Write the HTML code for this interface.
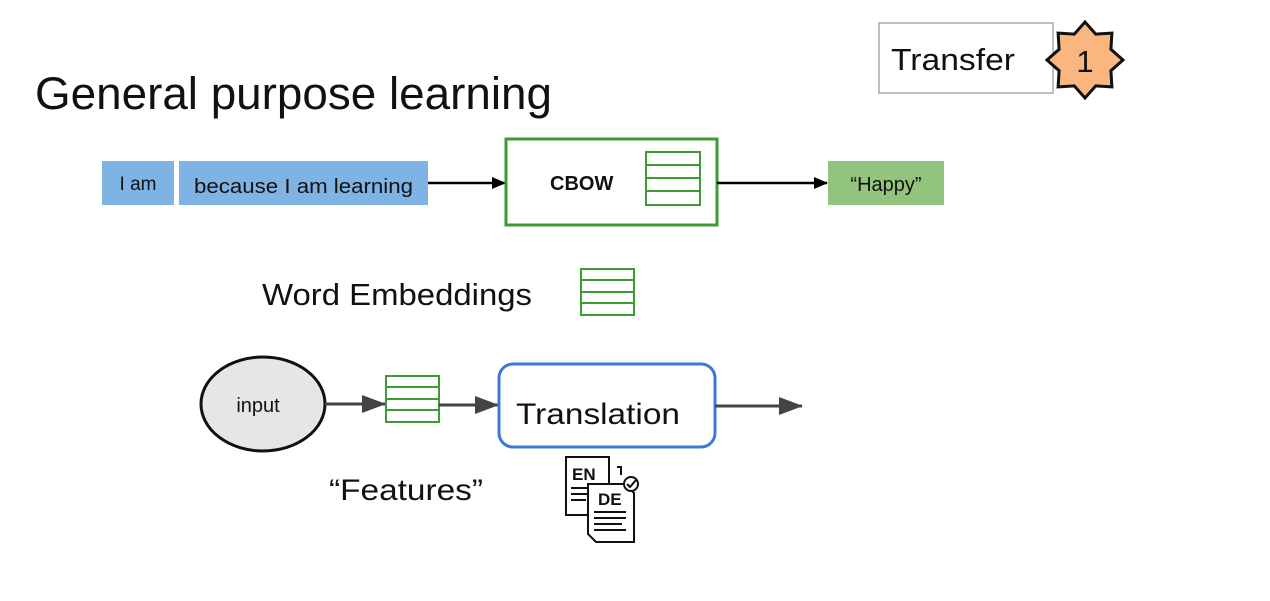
<!DOCTYPE html>
<html><head><style>
html,body{margin:0;padding:0;background:#fff;width:1270px;height:601px;overflow:hidden}
svg{display:block}
text{font-family:"Liberation Sans",sans-serif}
</style></head><body>
<svg width="1270" height="601" viewBox="0 0 1270 601" xmlns="http://www.w3.org/2000/svg">
<defs>
<marker id="a" markerWidth="14" markerHeight="12" refX="13" refY="6" orient="auto" markerUnits="userSpaceOnUse"><path d="M0,0 L14,6 L0,12 z" fill="#000"/></marker>
<marker id="g" markerWidth="24" markerHeight="18" refX="23" refY="9" orient="auto" markerUnits="userSpaceOnUse"><path d="M0,0 L24,9 L0,18 z" fill="#444"/></marker>
</defs>
<rect x="879" y="23" width="174" height="70" fill="#fff" stroke="#aaa" stroke-width="1.5"/>
<text x="891" y="70" font-size="31" fill="#111" textLength="124" lengthAdjust="spacingAndGlyphs">Transfer</text>
<polygon fill="#f9b77f" stroke="#111" stroke-width="3" points="1085,22 1095.7,34.1 1111.9,33.1 1110.9,49.3 1123,60 1110.9,70.7 1111.9,86.9 1095.7,85.9 1085,98 1074.3,85.9 1058.1,86.9 1059.1,70.7 1047,60 1059.1,49.3 1058.1,33.1 1074.3,34.1"/>
<text x="1085" y="72" font-size="31" text-anchor="middle" fill="#111">1</text>
<text x="35" y="109" font-size="45" fill="#111" textLength="517" lengthAdjust="spacingAndGlyphs">General purpose learning</text>
<rect x="102" y="161" width="72" height="44" fill="#7eb3e3"/>
<text x="138" y="190" font-size="19" text-anchor="middle" fill="#111">I am</text>
<rect x="179" y="161" width="249" height="44" fill="#7eb3e3"/>
<text x="194" y="193" font-size="20" fill="#111" textLength="219" lengthAdjust="spacingAndGlyphs">because I am learning</text>
<line x1="428" y1="183" x2="505" y2="183" stroke="#000" stroke-width="2.5" marker-end="url(#a)"/>
<rect x="506" y="139" width="211" height="86" fill="#fff" stroke="#3f9a35" stroke-width="3"/>
<text x="550" y="190" font-size="20" font-weight="bold" fill="#111">CBOW</text>
<g fill="#fff" stroke="#3f9a35" stroke-width="2"><rect x="646" y="152" width="54" height="53"/><line x1="646" y1="165" x2="700" y2="165"/><line x1="646" y1="178" x2="700" y2="178"/><line x1="646" y1="191" x2="700" y2="191"/></g>
<line x1="717" y1="183" x2="827" y2="183" stroke="#000" stroke-width="2.5" marker-end="url(#a)"/>
<rect x="828" y="161" width="116" height="44" fill="#93c47d"/>
<text x="886" y="191" font-size="20" text-anchor="middle" fill="#111">“Happy”</text>
<text x="262" y="305" font-size="31" fill="#111" textLength="270" lengthAdjust="spacingAndGlyphs">Word Embeddings</text>
<g fill="#fff" stroke="#3f9a35" stroke-width="2"><rect x="581" y="269" width="53" height="46"/><line x1="581" y1="280" x2="634" y2="280"/><line x1="581" y1="292" x2="634" y2="292"/><line x1="581" y1="303" x2="634" y2="303"/></g>
<ellipse cx="263" cy="404" rx="62" ry="47" fill="#e6e6e6" stroke="#111" stroke-width="3"/>
<text x="258" y="412" font-size="20" text-anchor="middle" fill="#111">input</text>
<line x1="325" y1="404" x2="385" y2="404" stroke="#444" stroke-width="3" marker-end="url(#g)"/>
<g fill="#fff" stroke="#3f9a35" stroke-width="2"><rect x="386" y="376" width="53" height="46"/><line x1="386" y1="387" x2="439" y2="387"/><line x1="386" y1="399" x2="439" y2="399"/><line x1="386" y1="410" x2="439" y2="410"/></g>
<line x1="439" y1="405" x2="498" y2="405" stroke="#444" stroke-width="3" marker-end="url(#g)"/>
<rect x="499" y="364" width="216" height="83" rx="14" fill="#fff" stroke="#3c78d8" stroke-width="3"/>
<text x="516" y="424" font-size="30" fill="#111" textLength="164" lengthAdjust="spacingAndGlyphs">Translation</text>
<line x1="715" y1="406" x2="802" y2="406" stroke="#444" stroke-width="3" marker-end="url(#g)"/>
<text x="329" y="500" font-size="30" fill="#111" textLength="154" lengthAdjust="spacingAndGlyphs">“Features”</text>
<g stroke="#111" stroke-width="2" fill="#fff">
<path d="M566,457 H609 V515 H566 Z"/>
<text x="572" y="480" font-size="17" font-weight="bold" stroke="none" fill="#111">EN</text>
<path d="M571,488 H588 M571,494 H590 M571,500 H586" />
<path d="M617,467 H621 V475" fill="none"/>
<path d="M588,484 H625 L634,493 V542 H596 L588,534 Z"/>
<text x="598" y="505" font-size="17" font-weight="bold" stroke="none" fill="#111">DE</text>
<path d="M594,512 H626 M594,518 H626 M594,524 H622 M594,530 H626" />
<circle cx="631" cy="484" r="7"/>
<path d="M627,484 L630,487 L636,480" fill="none"/>
</g>
</svg>
</body></html>
